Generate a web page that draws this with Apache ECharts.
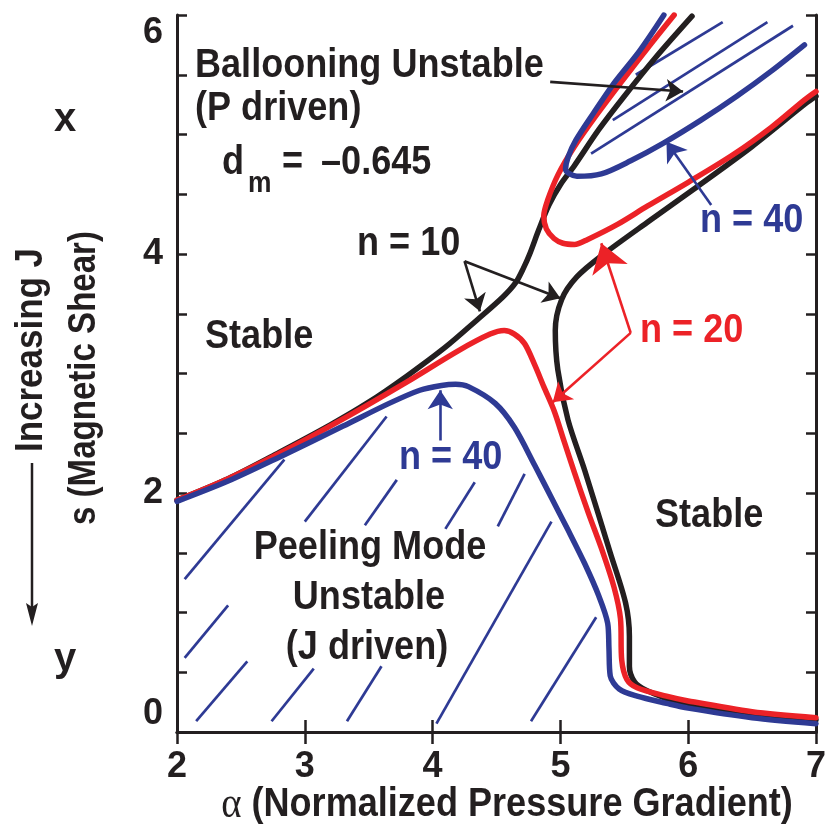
<!DOCTYPE html>
<html>
<head>
<meta charset="utf-8">
<title>Edge stability diagram</title>
<script src="https://cdn.jsdelivr.net/npm/echarts@6/dist/echarts.min.js"></script>
<style>
  html, body { margin: 0; padding: 0; background: #fff; }
  #chart { width: 829px; height: 832px; }
</style>
</head>
<body>
<div id="chart"></div>
<script>
// Axis ticks
const xTickValues = [2, 3, 4, 5, 6, 7];
const yTickLabels = [0, 2, 4, 6];

// n = 10 stability boundary: left/upper branch and right/lower branch
const n10Upper = [
  [2.0, 1.94], [2.4, 2.12], [2.8, 2.34], [3.2, 2.57], [3.5, 2.76], [3.8, 2.98],
  [4.1, 3.22], [4.35, 3.45], [4.55, 3.64], [4.65, 3.76], [4.71, 3.88], [4.76, 4.0],
  [4.83, 4.2], [4.91, 4.41], [5.0, 4.58], [5.11, 4.74], [5.30, 5.04], [5.50, 5.32],
  [5.75, 5.65], [6.03, 5.99]
];
const n10Lower = [
  [7.0, 0.10], [6.5, 0.14], [6.0, 0.22], [5.83, 0.28], [5.67, 0.35], [5.58, 0.42],
  [5.54, 0.55], [5.54, 0.80], [5.51, 1.08], [5.39, 1.50], [5.19, 2.19], [5.06, 2.61],
  [4.98, 3.03], [4.96, 3.36], [5.01, 3.62], [5.13, 3.81], [5.34, 4.0], [5.70, 4.28],
  [6.04, 4.54], [6.5, 4.90], [6.92, 5.26], [7.0, 5.32]
];

// n = 20 boundaries: peeling side and ballooning side
const n20Lower = [
  [2.0, 1.94], [2.4, 2.12], [2.8, 2.33], [3.3, 2.62], [3.8, 2.93], [4.2, 3.19],
  [4.45, 3.33], [4.56, 3.36], [4.64, 3.33], [4.72, 3.25], [4.80, 3.07], [4.87, 2.89],
  [4.95, 2.69], [5.03, 2.43], [5.11, 2.17], [5.22, 1.83], [5.33, 1.51], [5.42, 1.21],
  [5.47, 0.95], [5.48, 0.60], [5.52, 0.44], [5.60, 0.37], [5.83, 0.30], [6.0, 0.26],
  [6.5, 0.17], [7.0, 0.12]
];
const n20Upper = [
  [5.89, 6.0], [5.68, 5.72], [5.47, 5.43], [5.28, 5.16], [5.11, 4.90], [4.98, 4.66],
  [4.90, 4.45], [4.87, 4.32], [4.89, 4.21], [4.95, 4.13], [5.02, 4.09], [5.11, 4.08],
  [5.21, 4.12], [5.45, 4.25], [5.68, 4.40], [6.0, 4.60], [6.35, 4.83], [6.65, 5.06],
  [6.91, 5.29], [7.0, 5.36]
];

// n = 40 boundaries
const n40Lower = [
  [2.0, 1.93], [2.4, 2.10], [2.8, 2.30], [3.3, 2.56], [3.66, 2.75], [3.9, 2.86],
  [4.07, 2.90], [4.18, 2.91], [4.28, 2.89], [4.49, 2.75], [4.64, 2.55], [4.80, 2.23],
  [4.93, 1.96], [5.06, 1.69], [5.19, 1.41], [5.30, 1.14], [5.37, 0.91], [5.38, 0.70],
  [5.39, 0.47], [5.46, 0.36], [5.6, 0.30], [5.83, 0.24], [6.0, 0.20], [6.5, 0.12], [7.0, 0.07]
];
const n40Upper = [
  [5.81, 6.0], [5.62, 5.70], [5.42, 5.43], [5.26, 5.18], [5.12, 4.95], [5.06, 4.81],
  [5.04, 4.71], [5.13, 4.65], [5.32, 4.67], [5.55, 4.78], [5.81, 4.93], [6.1, 5.12],
  [6.38, 5.32], [6.65, 5.53], [6.91, 5.75]
];

// Hatching segments [x1, y1, x2, y2]: peeling-unstable region
const peelingHatch = [
  [2.06, 1.28, 2.84, 2.28], [2.06, 0.62, 2.40, 1.06], [2.15, 0.09, 2.55, 0.59],
  [3.00, 1.76, 3.64, 2.64], [3.47, 1.73, 3.72, 2.11], [2.74, 0.09, 3.07, 0.53],
  [3.33, 0.09, 3.60, 0.55], [4.10, 1.70, 4.33, 2.09], [4.51, 1.72, 4.72, 2.16],
  [4.03, 0.07, 4.93, 1.76], [4.77, 0.09, 5.28, 0.96]
];
// Hatching segments: ballooning-unstable region
const ballooningHatch = [
  [5.59, 5.50, 6.27, 5.94], [5.41, 5.12, 6.62, 5.94], [5.24, 4.84, 6.82, 5.91]
];

const BLACK = '#231f20';
const RED = '#ec2227';
const BLUE = '#2e3a94';
const SANS = '"Liberation Sans", Arial, "DejaVu Sans", sans-serif';
const NARROW = 0.88;   // horizontal squeeze for the condensed bold lettering

const chart = echarts.init(document.getElementById('chart'), null, { renderer: 'canvas' });

function curve(name, data, color) {
  return {
    name, type: 'line', data, showSymbol: false, symbol: 'none',
    smooth: 0.3, clip: true, silent: true,
    lineStyle: { color, width: 5.5, cap: 'round', join: 'round' },
    z: 3
  };
}
function hatch(name, segs) {
  return {
    name, type: 'lines', coordinateSystem: 'cartesian2d', silent: true,
    data: segs.map(s => ({ coords: [[s[0], s[1]], [s[2], s[3]]] })),
    lineStyle: { color: BLUE, width: 2.7, opacity: 1 },
    symbol: 'none', z: 2
  };
}
function arrows(name, list, color, size) {
  return {
    name, type: 'lines', coordinateSystem: 'cartesian2d', silent: true,
    data: list.map(c => ({ coords: c })),
    lineStyle: { color, width: 2.6, opacity: 1 },
    symbol: ['none', 'arrow'], symbolSize: size, z: 6
  };
}
function label(text, x, y, color, opts) {
  const o = opts || {};
  return {
    type: 'text', x, y, scaleX: o.scaleX || NARROW, rotation: o.rotation || 0,
    style: {
      text, fill: color || BLACK,
      font: `bold ${o.size || 41}px ${SANS}`,
      align: o.align || 'left', verticalAlign: 'middle'
    }
  };
}

const axisLineStyle = { color: BLACK, width: 3 };
const tickStyle = { color: BLACK, width: 2.5 };

const option = {
  animation: false,
  backgroundColor: '#fff',
  grid: { left: 177, right: 9, top: 15, bottom: 100, containLabel: false },
  xAxis: [
    {
      type: 'value', min: xTickValues[0], max: xTickValues[xTickValues.length - 1], interval: 1,
      position: 'bottom',
      axisLine: { show: true, lineStyle: axisLineStyle },
      axisTick: { show: true, inside: true, length: 12, lineStyle: tickStyle },
      axisLabel: {
        margin: 17, color: BLACK, fontSize: 36, fontWeight: 'bold', fontFamily: SANS,
        formatter: v => xTickValues.includes(v) ? String(v) : ''
      },
      splitLine: { show: false }
    },
    {
      type: 'value', min: 2, max: 7, interval: 1, position: 'top',
      axisLine: { show: true, lineStyle: axisLineStyle },
      axisTick: { show: true, inside: true, length: 12, lineStyle: tickStyle },
      axisLabel: { show: false }, splitLine: { show: false }
    }
  ],
  yAxis: [
    {
      type: 'value', min: 0, max: 6, interval: 0.5, position: 'left',
      axisLine: { show: true, lineStyle: axisLineStyle },
      axisTick: { show: true, inside: true, length: 10, lineStyle: tickStyle },
      axisLabel: {
        margin: 14, color: BLACK, fontSize: 36, fontWeight: 'bold', fontFamily: SANS,
        formatter: v => yTickLabels.includes(v) ? String(v) : '',
        verticalAlignMinLabel: 'bottom', verticalAlignMaxLabel: 'top'
      },
      splitLine: { show: false }
    },
    {
      type: 'value', min: 0, max: 6, interval: 0.5, position: 'right',
      axisLine: { show: true, lineStyle: axisLineStyle },
      axisTick: { show: true, inside: true, length: 10, lineStyle: tickStyle },
      axisLabel: { show: false }, splitLine: { show: false }
    }
  ],
  series: [
    hatch('peeling hatch', peelingHatch),
    hatch('ballooning hatch', ballooningHatch),
    curve('n = 10 (a)', n10Upper, BLACK),
    curve('n = 10 (b)', n10Lower, BLACK),
    curve('n = 20 (a)', n20Lower, RED),
    curve('n = 20 (b)', n20Upper, RED),
    curve('n = 40 (a)', n40Lower, BLUE),
    curve('n = 40 (b)', n40Upper, BLUE),
    // label pointers
    arrows('pointer black', [
      [[4.92, 5.44], [5.96, 5.36]],
      [[4.25, 3.94], [4.37, 3.52]],
      [[4.25, 3.94], [5.00, 3.63]]
    ], BLACK, 17),
    arrows('pointer red big', [[[5.55, 3.34], [5.32, 4.09]]], RED, 28),
    arrows('pointer red', [[[5.55, 3.34], [4.94, 2.76]]], RED, 18),
    arrows('pointer blue', [
      [[6.18, 4.41], [5.83, 4.94]],
      [[4.06, 2.44], [4.06, 2.86]]
    ], BLUE, 19)
  ],
  graphic: [
    label('Ballooning Unstable', 195, 66),
    label('(P driven)', 195, 109),
    label('d', 222, 163),
    label('m', 248, 184, BLACK, { size: 30 }),
    label('=', 282, 163),
    label('\u20130.645', 321, 163),
    label('n = 10', 357, 244),
    label('Stable', 205, 337),
    label('n = 40', 700, 221, BLUE),
    label('n = 20', 640, 331, RED),
    label('n = 40', 399, 458, BLUE),
    label('Stable', 655, 516),
    label('Peeling Mode', 370, 548, BLACK, { align: 'center' }),
    label('Unstable', 369, 598, BLACK, { align: 'center' }),
    label('(J driven)', 367, 648, BLACK, { align: 'center' }),
    label('x', 65, 120, BLACK, { size: 40, align: 'center', scaleX: 1 }),
    label('y', 65, 660, BLACK, { size: 40, align: 'center', scaleX: 1 }),
    // rotated axis captions
    label('Increasing J', 32, 350, BLACK, { size: 38, align: 'center', rotation: Math.PI / 2, scaleX: 0.92 }),
    label('s (Magnetic Shear)', 85, 378, BLACK, { size: 38, align: 'center', rotation: Math.PI / 2, scaleX: 0.87 }),
    { type: 'line', shape: { x1: 32, y1: 463, x2: 32, y2: 610 }, style: { stroke: BLACK, lineWidth: 2.5 } },
    { type: 'polygon', shape: { points: [[26, 603], [32, 626], [38, 603], [32, 607]] }, style: { fill: BLACK } },
    // x axis caption
    {
      type: 'text', x: 507, y: 805, scaleX: NARROW,
      style: {
        text: '{a|\u03b1} (Normalized Pressure Gradient)',
        font: `bold 41px ${SANS}`, fill: BLACK, align: 'center', verticalAlign: 'middle',
        rich: { a: { font: '44px "Liberation Serif", "DejaVu Serif", serif', fill: BLACK } }
      }
    }
  ]
};

chart.setOption(option);
</script>
</body>
</html>
